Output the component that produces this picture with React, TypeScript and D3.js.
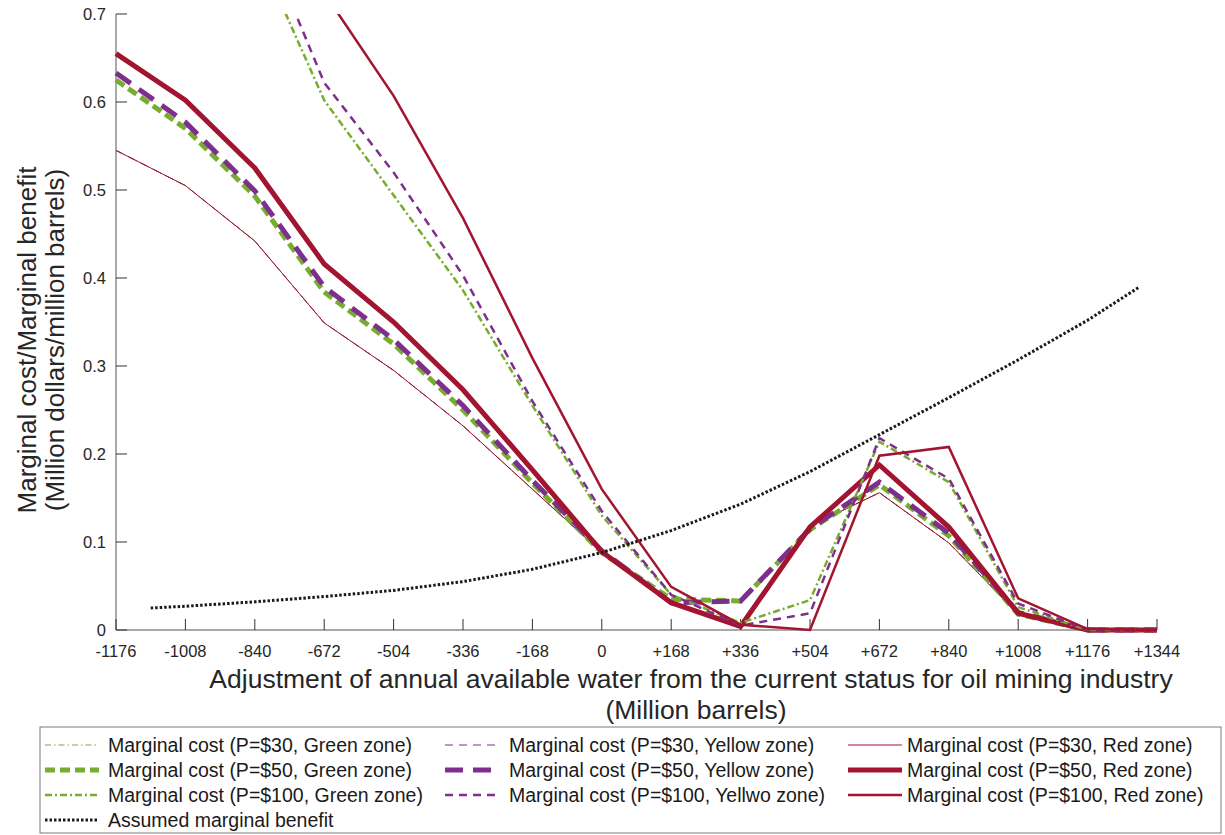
import React from "react";
import * as d3 from "d3";

const xValues = [-1176, -1008, -840, -672, -504, -336, -168, 0, 168, 336, 504, 672, 840, 1008, 1176, 1344];
const xTickLabels = ["-1176", "-1008", "-840", "-672", "-504", "-336", "-168", "0", "+168", "+336", "+504", "+672", "+840", "+1008", "+1176", "+1344"];
const yTicks = [0, 0.1, 0.2, 0.3, 0.4, 0.5, 0.6, 0.7];

const p30Green = [0.545, 0.505, 0.442, 0.349, 0.295, 0.232, 0.16, 0.088, 0.03, 0.005, 0.118, 0.156, 0.099, 0.018, 0, 0];
const p30Yellow = [0.545, 0.505, 0.442, 0.349, 0.295, 0.232, 0.16, 0.088, 0.03, 0.005, 0.118, 0.156, 0.099, 0.018, 0, 0];
const p30Red = [0.545, 0.505, 0.442, 0.349, 0.295, 0.232, 0.16, 0.088, 0.03, 0.005, 0.118, 0.156, 0.099, 0.018, 0, 0];
const p50Green = [0.625, 0.57, 0.493, 0.384, 0.325, 0.25, 0.167, 0.088, 0.035, 0.033, 0.114, 0.165, 0.107, 0.018, 0, 0];
const p50Yellow = [0.633, 0.577, 0.499, 0.39, 0.33, 0.255, 0.17, 0.09, 0.031, 0.033, 0.115, 0.168, 0.11, 0.02, 0, 0];
const p50Red = [0.655, 0.602, 0.525, 0.416, 0.35, 0.273, 0.182, 0.089, 0.031, 0.004, 0.117, 0.1875, 0.117, 0.019, 0, 0];
const p100Green = [null, null, 0.779, 0.602, 0.494, 0.386, 0.255, 0.13, 0.04, 0.008, 0.034, 0.214, 0.168, 0.026, 0, 0];
const p100Yellow = [null, null, 0.812, 0.622, 0.52, 0.403, 0.26, 0.135, 0.04, 0.005, 0.019, 0.218, 0.172, 0.03, 0, 0];
const p100Red = [null, null, null, 0.724, 0.607, 0.468, 0.309, 0.16, 0.049, 0.006, 0.0, 0.198, 0.208, 0.036, 0.001, 0];

const benefitX = [-1092, -1008, -840, -672, -504, -336, -168, 0, 168, 336, 504, 672, 840, 1008, 1176, 1302];
const benefitY = [0.025, 0.027, 0.032, 0.038, 0.045, 0.055, 0.069, 0.088, 0.113, 0.143, 0.18, 0.222, 0.264, 0.307, 0.352, 0.39];

const GREEN = "#77AC30";
const PURPLE = "#7E2F8E";
const RED = "#A2142F";

type S = { label: string; values: (number | null)[]; color: string; width: number; dash: string };

const series: S[] = [
  { label: "Marginal cost (P=$30, Green zone)", values: p30Green, color: GREEN, width: 1, dash: "6,3,1.5,3" },
  { label: "Marginal cost (P=$30, Yellow zone)", values: p30Yellow, color: PURPLE, width: 1, dash: "8,6" },
  { label: "Marginal cost (P=$30, Red zone)", values: p30Red, color: RED, width: 1, dash: "" },
  { label: "Marginal cost (P=$50, Green zone)", values: p50Green, color: GREEN, width: 5, dash: "10,5" },
  { label: "Marginal cost (P=$50, Yellow zone)", values: p50Yellow, color: PURPLE, width: 5, dash: "18,10" },
  { label: "Marginal cost (P=$50, Red zone)", values: p50Red, color: RED, width: 5, dash: "" },
  { label: "Marginal cost (P=$100, Green zone)", values: p100Green, color: GREEN, width: 2.5, dash: "7,3,2,3" },
  { label: "Marginal cost (P=$100, Yellwo zone)", values: p100Yellow, color: PURPLE, width: 2.5, dash: "8,6" },
  { label: "Marginal cost (P=$100, Red zone)", values: p100Red, color: RED, width: 2.5, dash: "" },
];

const FONT = "'Liberation Sans', Arial, sans-serif";

export default function App() {
  const left = 116, right = 1157, top = 14, bottom = 630;
  const x = d3.scaleLinear().domain([-1176, 1344]).range([left, right]);
  const y = d3.scaleLinear().domain([0, 0.7]).range([bottom, top]);

  const line = d3
    .line<[number, number | null]>()
    .defined((d) => d[1] !== null)
    .x((d) => x(d[0]))
    .y((d) => y(d[1] as number));

  const benefitLine = d3
    .line<[number, number]>()
    .x((d) => x(d[0]))
    .y((d) => y(d[1]));

  const legendCols = [
    { lx: 45, tx: 108 },
    { lx: 445, tx: 509 },
    { lx: 848, tx: 907 },
  ];
  const legendRows = [745, 770, 795, 820];
  const legendItems = series.map((s, i) => ({ s, col: i % 3, row: Math.floor(i / 3) }));

  return (
    <svg
      width={1225}
      height={835}
      style={{ position: "absolute", left: 0, top: 0, background: "#fff" }}
      fontFamily={FONT}
    >
      <rect x={0} y={0} width={1225} height={835} fill="#fff" />
      <defs>
        <clipPath id="plotClip">
          <rect x={left - 5} y={top} width={right - left + 10} height={bottom - top + 10} />
        </clipPath>
      </defs>

      {/* axes */}
      <line x1={left} x2={left} y1={top} y2={bottom} stroke="#8c8c8c" strokeWidth={1.5} />
      <line x1={left} x2={right} y1={bottom} y2={bottom} stroke="#8c8c8c" strokeWidth={1.5} />
      {yTicks.map((t) => (
        <g key={"y" + t}>
          <line x1={left} x2={left + 11} y1={y(t)} y2={y(t)} stroke="#333" strokeWidth={1} />
          <text x={106} y={y(t)} dy="0.36em" textAnchor="end" fontSize={16.5} fill="#262626">
            {t === 0 ? "0" : t.toFixed(1)}
          </text>
        </g>
      ))}
      {xValues.map((v, i) => (
        <g key={"x" + v}>
          <line x1={x(v)} x2={x(v)} y1={bottom} y2={bottom - 11} stroke="#333" strokeWidth={1} />
          <text x={x(v)} y={657} textAnchor="middle" fontSize={16.5} fill="#262626">
            {xTickLabels[i]}
          </text>
        </g>
      ))}

      {/* lines */}
      <g clipPath="url(#plotClip)">
        {series.map((s) => (
          <path
            key={s.label}
            d={line(xValues.map((v, i) => [v, s.values[i]] as [number, number | null])) || ""}
            fill="none"
            stroke={s.color}
            strokeWidth={s.width}
            strokeDasharray={s.dash || undefined}
            strokeLinejoin="miter"
          />
        ))}
        <path
          d={benefitLine(benefitX.map((v, i) => [v, benefitY[i]] as [number, number])) || ""}
          fill="none"
          stroke="#1a1a1a"
          strokeWidth={3}
          strokeDasharray="2.5,2"
        />
      </g>

      {/* axis labels */}
      <text x={691} y={688} textAnchor="middle" fontSize={26.5} fill="#262626">
        Adjustment of annual available water from the current status for oil mining industry
      </text>
      <text x={696} y={719} textAnchor="middle" fontSize={26.5} fill="#262626">
        (Million barrels)
      </text>
      <text transform="translate(36,340) rotate(-90)" textAnchor="middle" fontSize={26} fill="#262626">
        Marginal cost/Marginal benefit
      </text>
      <text transform="translate(64,340) rotate(-90)" textAnchor="middle" fontSize={26} fill="#262626">
        (Million dollars/million barrels)
      </text>

      {/* legend */}
      <rect x={40} y={727} width={1181} height={106} fill="#fff" stroke="#7a7a7a" strokeWidth={1} />
      {legendItems.map(({ s, col, row }) => (
        <g key={"lg" + s.label}>
          <line
            x1={legendCols[col].lx}
            x2={legendCols[col].lx + 54}
            y1={legendRows[row]}
            y2={legendRows[row]}
            stroke={s.color}
            strokeWidth={s.width}
            strokeDasharray={s.dash || undefined}
          />
          <text x={legendCols[col].tx} y={legendRows[row]} dy="0.36em" fontSize={19.5} fill="#1a1a1a">
            {s.label}
          </text>
        </g>
      ))}
      <line
        x1={legendCols[0].lx}
        x2={legendCols[0].lx + 54}
        y1={legendRows[3]}
        y2={legendRows[3]}
        stroke="#1a1a1a"
        strokeWidth={3}
        strokeDasharray="2.5,2"
      />
      <text x={legendCols[0].tx} y={legendRows[3]} dy="0.36em" fontSize={19.5} fill="#1a1a1a">
        Assumed marginal benefit
      </text>
    </svg>
  );
}
